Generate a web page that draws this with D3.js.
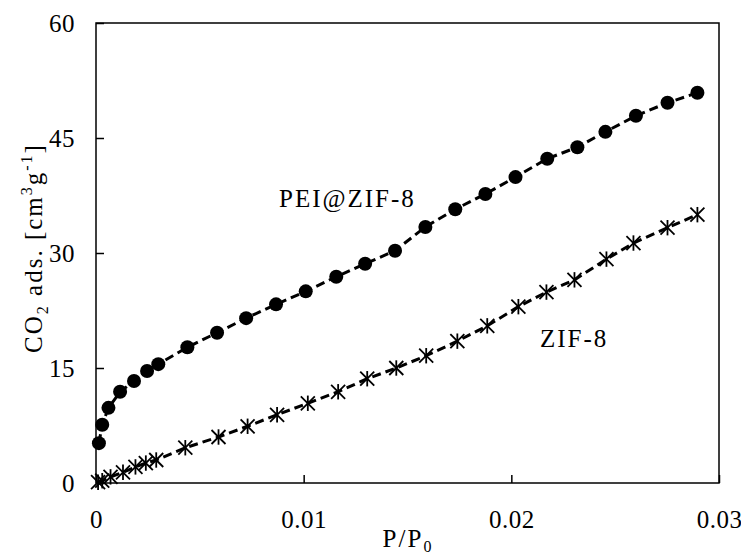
<!DOCTYPE html>
<html>
<head>
<meta charset="utf-8">
<script src="https://cdn.jsdelivr.net/npm/d3@7"></script>
<style>
  body { margin: 0; background: #fff; }
  svg text { font-family: "Liberation Serif", "Times New Roman", Times, serif !important; fill: #000; }
</style>
</head>
<body>
<div id="chart"></div>
<script>
// PEI@ZIF-8 isotherm (filled circles)
const peiX = [0.00014, 0.0003, 0.0006, 0.00116, 0.00183, 0.00246, 0.0030, 0.0044,
    0.00583, 0.00723, 0.00867, 0.0101, 0.01157, 0.01296, 0.0144,
    0.01586, 0.0173, 0.01875, 0.0202, 0.02173, 0.02318, 0.02453, 0.026, 0.02752, 0.02896];
const peiY = [5.2, 7.6, 9.8, 11.9, 13.3, 14.6, 15.5, 17.7,
    19.6, 21.5, 23.3, 25.0, 26.9, 28.6, 30.3,
    33.4, 35.7, 37.7, 39.9, 42.3, 43.8, 45.8, 47.9, 49.6, 50.9];

// ZIF-8 isotherm (asterisks)
const zifX = [0.0001, 0.0003, 0.0007, 0.0013, 0.0019, 0.0024, 0.0029, 0.0043, 0.0059, 0.0073,
    0.00872, 0.0102, 0.01166, 0.01306, 0.01446, 0.0159, 0.0174, 0.01884,
    0.02034, 0.02169, 0.02304, 0.02458, 0.02588, 0.02752, 0.02896];
const zifY = [0.1, 0.3, 0.8, 1.4, 2.1, 2.6, 3.0, 4.6, 6.0, 7.4,
    8.9, 10.4, 11.9, 13.6, 15.0, 16.6, 18.5, 20.5,
    23.0, 24.9, 26.5, 29.2, 31.3, 33.3, 35.0];

const xTicks = [0, 0.01, 0.02, 0.03];
const xTickLabels = ["0", "0.01", "0.02", "0.03"];
const yTicks = [0, 15, 30, 45, 60];

const serif = '"Liberation Serif", "Times New Roman", serif';

function init() {
    const w = 741;
    const h = 554;
    const margin = {left: 96, right: 22, top: 23, bottom: 71};

    const svg = d3.select("#chart")
        .append("svg")
        .attr("width", w)
        .attr("height", h)
        .style("font-family", serif);

    const x = d3.scaleLinear()
        .domain([0, 0.03])
        .range([margin.left, w - margin.right]);
    const y = d3.scaleLinear()
        .domain([0, 60])
        .range([h - margin.bottom, margin.top]);

    const pei = peiX.map((v, i) => ({x: v, y: peiY[i]}));
    const zif = zifX.map((v, i) => ({x: v, y: zifY[i]}));

    const line = d3.line()
        .x(d => x(d.x))
        .y(d => y(d.y));

    // frame
    svg.append("rect")
        .attr("x", x(0))
        .attr("y", y(60))
        .attr("width", x(0.03) - x(0))
        .attr("height", y(0) - y(60))
        .attr("fill", "none")
        .attr("stroke", "#000")
        .attr("stroke-width", 1.5);

    // axes with inward ticks
    const xAxis = svg.append("g")
        .attr("transform", "translate(0," + y(0) + ")")
        .call(d3.axisBottom(x)
            .tickValues(xTicks)
            .tickFormat((d, i) => xTickLabels[i])
            .tickSizeInner(-8)
            .tickSizeOuter(0)
            .tickPadding(27));
    xAxis.attr("font-family", null);
    xAxis.select(".domain").remove();
    xAxis.selectAll("line").attr("stroke-width", 1.5);
    xAxis.selectAll("text")
        .style("font-size", "25px")
        .style("letter-spacing", "0.5px")
        .attr("fill", "#000");

    const yAxis = svg.append("g")
        .attr("transform", "translate(" + x(0) + ",0)")
        .call(d3.axisLeft(y)
            .tickValues(yTicks)
            .tickSizeInner(-8)
            .tickSizeOuter(0)
            .tickPadding(21));
    yAxis.attr("font-family", null);
    yAxis.select(".domain").remove();
    yAxis.selectAll("line").attr("stroke-width", 1.5);
    yAxis.selectAll("text")
        .style("font-size", "25px")
        .style("letter-spacing", "0.5px")
        .attr("fill", "#000");

    // dashed lines
    [pei, zif].forEach(function (data) {
        svg.append("path")
            .datum(data)
            .attr("d", line)
            .attr("fill", "none")
            .attr("stroke", "#000")
            .attr("stroke-width", 3)
            .attr("stroke-dasharray", "9,5");
    });

    // circles
    svg.selectAll("circle.pei")
        .data(pei)
        .enter()
        .append("circle")
        .attr("class", "pei")
        .attr("cx", d => x(d.x))
        .attr("cy", d => y(d.y))
        .attr("r", 7)
        .attr("fill", "#000");

    // asterisks
    const star = svg.selectAll("g.zif")
        .data(zif)
        .enter()
        .append("g")
        .attr("class", "zif")
        .attr("transform", d => "translate(" + x(d.x) + "," + y(d.y) + ")");
    const s = 7;
    [[-s, -s, s, s], [-s, s, s, -s], [0, -s * 1.1, 0, s * 1.1]]
        .forEach(function (seg) {
            star.append("line")
                .attr("x1", seg[0]).attr("y1", seg[1])
                .attr("x2", seg[2]).attr("y2", seg[3])
                .attr("stroke", "#000")
                .attr("stroke-width", 1.8);
        });

    // series labels
    svg.append("text")
        .attr("x", 279)
        .attr("y", 207)
        .style("font-size", "25px")
        .style("letter-spacing", "2px")
        .text("PEI@ZIF-8");
    svg.append("text")
        .attr("x", 540)
        .attr("y", 347)
        .style("font-size", "25px")
        .style("letter-spacing", "2px")
        .text("ZIF-8");

    // axis titles
    const xt = svg.append("text")
        .attr("x", 408)
        .attr("y", 547)
        .attr("text-anchor", "middle")
        .style("font-size", "25px")
        .style("letter-spacing", "2px");
    xt.append("tspan").text("P/P");
    xt.append("tspan").style("font-size", "16px").attr("dy", 5).text("0");

    const yt = svg.append("text")
        .attr("transform", "translate(42,248) rotate(-90)")
        .attr("text-anchor", "middle")
        .style("font-size", "25px")
        .style("letter-spacing", "2px");
    yt.append("tspan").text("CO");
    yt.append("tspan").style("font-size", "16px").attr("dy", 6).text("2");
    yt.append("tspan").attr("dy", -6).text(" ads. [cm");
    yt.append("tspan").style("font-size", "16px").attr("dy", -10).text("3");
    yt.append("tspan").attr("dy", 10).text("g");
    yt.append("tspan").style("font-size", "16px").attr("dy", -10).text("-1");
    yt.append("tspan").attr("dy", 10).text("]");
}

window.onload = init;
</script>
</body>
</html>
